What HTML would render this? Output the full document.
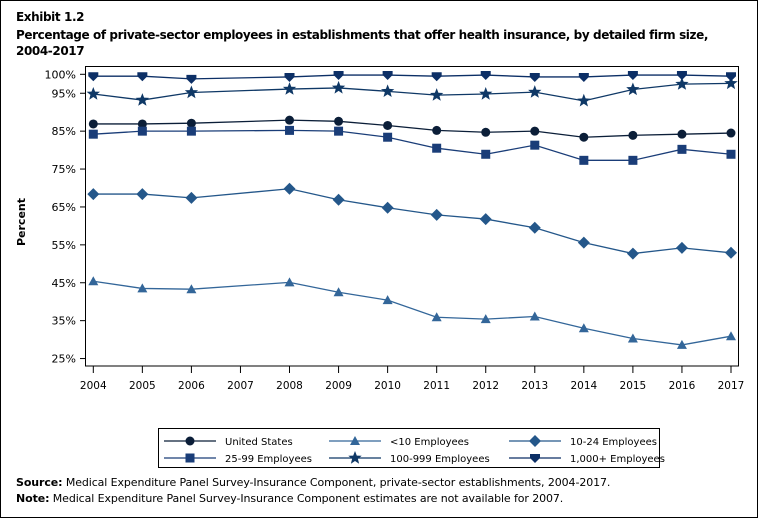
<!DOCTYPE html>
<html><head><meta charset="utf-8"><style>
body{margin:0;width:758px;height:518px;overflow:hidden;background:#fff;font-family:"DejaVu Sans","Liberation Sans",sans-serif;}
#frame{position:absolute;left:0;top:0;width:756px;height:516px;border:1px solid #000;}
.t{position:absolute;left:16px;font-size:12px;font-weight:bold;color:#000;letter-spacing:-0.4px;white-space:nowrap;}
.f{position:absolute;left:16px;font-size:11px;color:#000;letter-spacing:-0.1px;white-space:nowrap;}
svg{position:absolute;left:0;top:0;font-family:"DejaVu Sans","Liberation Sans",sans-serif;}
</style></head><body>
<div id="frame"></div>
<div class="t" style="top:10px">Exhibit 1.2</div>
<div class="t" style="top:27px;line-height:16px">Percentage of private-sector employees in establishments that offer health insurance, by detailed firm size,<br>2004-2017</div>
<div class="f" style="top:476px"><b>Source:</b> Medical Expenditure Panel Survey-Insurance Component, private-sector establishments, 2004-2017.</div>
<div class="f" style="top:492px"><b>Note:</b> Medical Expenditure Panel Survey-Insurance Component estimates are not available for 2007.</div>
<svg width="758" height="518" id="chart"></svg>
<script>
const years=[2004,2005,2006,2008,2009,2010,2011,2012,2013,2014,2015,2016,2017];
const xTicks=[2004,2005,2006,2007,2008,2009,2010,2011,2012,2013,2014,2015,2016,2017];
const yTicks=[25,35,45,55,65,75,85,95,100];
const usVals=[86.9,86.9,87.1,87.9,87.6,86.5,85.2,84.7,85.0,83.4,83.9,84.2,84.5];
const lt10Vals=[45.4,43.5,43.3,45.1,42.5,40.4,35.9,35.4,36.1,33.0,30.3,28.6,30.9];
const e10to24Vals=[68.4,68.4,67.4,69.8,66.9,64.8,62.9,61.8,59.5,55.6,52.7,54.2,52.9];
const e25to99Vals=[84.2,85.0,85.0,85.2,85.0,83.4,80.5,78.9,81.3,77.3,77.3,80.2,78.9];
const e100to999Vals=[94.8,93.2,95.2,96.1,96.4,95.5,94.5,94.8,95.3,93.0,96.0,97.4,97.6];
const e1000Vals=[99.5,99.5,98.8,99.3,99.8,99.8,99.5,99.8,99.3,99.3,99.8,99.8,99.5];
const seriesNames=["United States","<10 Employees","10-24 Employees","25-99 Employees","100-999 Employees","1,000+ Employees"];

const NS="http://www.w3.org/2000/svg";
const svg=document.getElementById('chart');
const x=v=>93.3+(v-2004)*(731-93.3)/13;
const y=v=>74.3+(100-v)*3.79;
function mk(tag,attrs,parent){const e=document.createElementNS(NS,tag);for(const k in attrs)e.setAttribute(k,attrs[k]);(parent||svg).appendChild(e);return e;}

const plot=mk('rect',{x:85.5,y:66.5,width:653,height:299.5,fill:'none',stroke:'#000','stroke-width':1});


yTicks.forEach(t=>{
  const l=mk('line',{x1:80,x2:85,y1:y(t),y2:y(t),stroke:'#000'});
  
  
  const tx=mk('text',{x:76,y:y(t)+4,'text-anchor':'end','font-size':11,fill:'#000'});
  tx.textContent=t+'%';
  
  
});
xTicks.forEach(t=>{
  const l=mk('line',{x1:x(t),x2:x(t),y1:366,y2:373,stroke:'#000'});
  
  
  const tx=mk('text',{x:x(t),y:389,'text-anchor':'middle','font-size':10.5,fill:'#000'});
  tx.textContent=t;
  
  
});
const yt=mk('text',{x:0,y:0,transform:'translate(25,222) rotate(-90)','text-anchor':'middle','font-size':11,'font-weight':'bold',fill:'#000'});
yt.textContent='Percent';



function marker(shape,cx,cy,col,parent){
  let e;
  if(shape==='circle')e=mk('circle',{cx:cx,cy:cy,r:4.5,fill:col},parent);
  else if(shape==='tri')e=mk('polygon',{points:`${cx},${cy-5} ${cx+5},${cy+4} ${cx-5},${cy+4}`,fill:col},parent);
  else if(shape==='diamond')e=mk('polygon',{points:`${cx},${cy-6} ${cx+6},${cy} ${cx},${cy+6} ${cx-6},${cy}`,fill:col},parent);
  else if(shape==='square')e=mk('rect',{x:cx-4.5,y:cy-4.5,width:9,height:9,fill:col},parent);
  else if(shape==='star'){let p=[];for(let i=0;i<10;i++){const r=i%2?3:7,a=-Math.PI/2+i*Math.PI/5;p.push((cx+r*Math.cos(a)).toFixed(1)+','+(cy+r*Math.sin(a)).toFixed(1));}e=mk('polygon',{points:p.join(' '),fill:col},parent);}
  else if(shape==='vtri')e=mk('path',{d:`M${cx-5},${cy-4} L${cx+5},${cy-4} L${cx+5},${cy} L${cx},${cy+5} L${cx-5},${cy} Z`,fill:col},parent);
  return e;
}
const series=[
 {vals:usVals,col:'#0b1e38',shape:'circle',name:'series-united-states'},
 {vals:lt10Vals,col:'#336699',shape:'tri',name:'series-under-10'},
 {vals:e10to24Vals,col:'#24578a',shape:'diamond',name:'series-10-24'},
 {vals:e25to99Vals,col:'#1a3d78',shape:'square',name:'series-25-99'},
 {vals:e100to999Vals,col:'#0f3866',shape:'star',name:'series-100-999'},
 {vals:e1000Vals,col:'#0c2f66',shape:'vtri',name:'series-1000-plus'}
];
series.forEach(s=>{
  const g=mk('g',{});
  
  
  const pl=mk('polyline',{points:years.map((yr,i)=>x(yr)+','+y(s.vals[i])).join(' '),fill:'none',stroke:s.col,'stroke-width':1.3},g);
  
  
  years.forEach((yr,i)=>{
    const m=marker(s.shape,x(yr),y(s.vals[i]),s.col,g);
    
    
  });
});
const lg=mk('g',{});


mk('rect',{x:158.5,y:428.5,width:501,height:39,fill:'none',stroke:'#000'},lg);
const colX=[160,325,505];
series.forEach((s,i)=>{
  const cx=colX[i%3],cy=i<3?441:458;
  const e=mk('g',{},lg);
  
  
  mk('line',{x1:cx+4,x2:cx+56,y1:cy,y2:cy,stroke:s.col,'stroke-width':1.3},e);
  marker(s.shape,cx+30,cy,s.col,e);
  const t=mk('text',{x:cx+65,y:cy+4,'font-size':10,fill:'#000'},e);
  t.textContent=seriesNames[i];
});
</script>
</body></html>
